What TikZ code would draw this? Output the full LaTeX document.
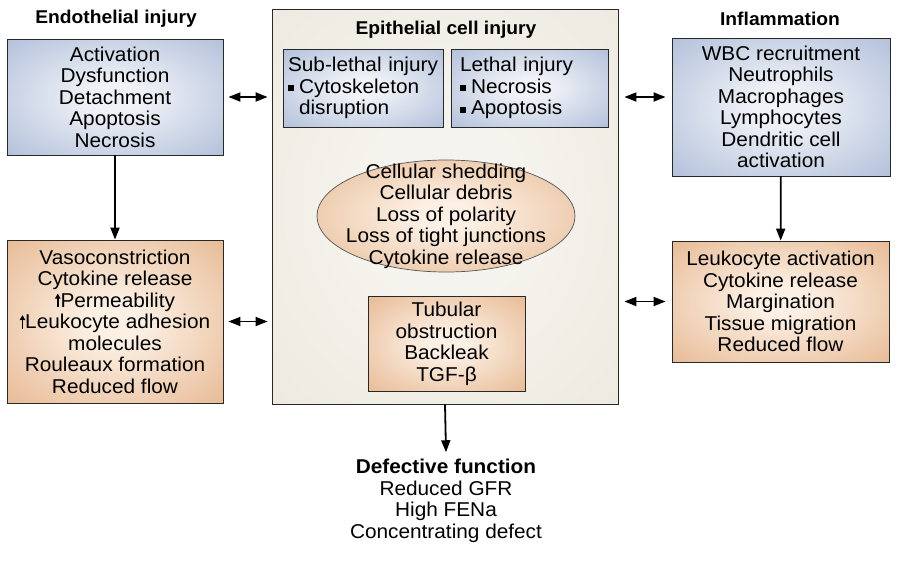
\documentclass[tikz,border=0pt]{standalone}
\usepackage{fontspec}
\setmainfont{Liberation Sans}[FakeStretch=1.04]
\usetikzlibrary{arrows.meta,shapes.geometric}
\definecolor{blueout}{RGB}{156,175,208}
\definecolor{bluein}{RGB}{240,242,247}
\definecolor{orout}{RGB}{224,168,122}
\definecolor{orin}{RGB}{252,240,228}
\definecolor{beout}{RGB}{233,228,216}
\definecolor{bein}{RGB}{245,243,237}
\definecolor{edge}{RGB}{40,40,40}
\pgfdeclareradialshading{blueglow}{\pgfpoint{0bp}{0bp}}{color(0bp)=(bluein); color(6bp)=(bluein); color(46bp)=(blueout); color(72bp)=(blueout)}
\pgfdeclareradialshading{orglow}{\pgfpoint{0bp}{0bp}}{color(0bp)=(orin); color(6bp)=(orin); color(46bp)=(orout); color(72bp)=(orout)}
\pgfdeclareradialshading{beglow}{\pgfpoint{0bp}{0bp}}{color(0bp)=(bein); color(12bp)=(bein); color(50bp)=(beout); color(72bp)=(beout)}
\newcommand\uparr{\tikz[baseline=0pt,x=1pt,y=1pt]\draw[line width=1.5pt,-{Triangle[length=5pt,width=5.5pt]}] (0,0)--(0,13.5);}
\newcommand\bul{\rule[2pt]{6pt}{6pt}\hspace{5pt}}
\begin{document}
\begin{tikzpicture}[x=1pt,y=-1pt,
  font=\fontsize{20}{21.5}\selectfont,
  box/.style={draw=edge, line width=0.8pt, inner sep=0pt, align=center},
  bluebox/.style={box, shading=blueglow},
  orangebox/.style={box, shading=orglow},
  beigebox/.style={box, shading=beglow},
  head/.style={font=\bfseries\fontsize{18.5}{21.5}\selectfont},
  txt/.style={align=center, inner sep=0pt},
  dbl/.style={line width=1.8pt, {Triangle[length=12pt,width=9pt]}-{Triangle[length=12pt,width=9pt]}},
  down/.style={line width=1.8pt, -{Triangle[length=12pt,width=9pt]}}]
\useasboundingbox[fill=white] (0,0) rectangle (900,560);
\node[head] (hl) at (116,19) {Endothelial injury};
\node[head] (hr) at (780,19) {Inflammation};
\node[beigebox, minimum width=346, minimum height=395] (c) at (445,206.5) {};
\node[head] (hc) at (446,30) {Epithelial cell injury};
\node[bluebox, minimum width=216, minimum height=116] (lt) at (115,97)
  {Activation\\Dysfunction\\Detachment\\Apoptosis\\Necrosis};
\node[orangebox, minimum width=216, minimum height=163] (lb) at (115,321.5)
  {Vasoconstriction\\Cytokine release\\\uparr Permeability\\\uparr Leukocyte adhesion\\molecules\\Rouleaux formation\\Reduced flow};
\node[bluebox, minimum width=160, minimum height=78, text width=150, inner xsep=5, align=left] (sl) at (363,88)
  {\mbox{Sub-lethal injury}\\\mbox{\bul Cytoskeleton}\\\mbox{\hphantom{\bul}disruption}};
\node[bluebox, minimum width=157, minimum height=78, text width=139, inner xsep=9, align=left] (le) at (529.5,88)
  {\mbox{Lethal injury}\\\mbox{\bul Necrosis}\\\mbox{\bul Apoptosis}};
\node[ellipse, draw=edge!80, line width=0.7pt, shading=orglow, minimum width=258, minimum height=112, inner sep=0pt] (el) at (446,216) {};
\node[txt] (elt) at (el.center) {Cellular shedding\\Cellular debris\\Loss of polarity\\Loss of tight junctions\\Cytokine release};
\node[orangebox, minimum width=157, minimum height=95] (tb) at (446.5,344)
  {Tubular\\obstruction\\Backleak\\TGF-β};
\node[bluebox, minimum width=218, minimum height=138] (rt) at (781,107)
  {WBC recruitment\\Neutrophils\\Macrophages\\Lymphocytes\\Dendritic cell\\activation};
\node[orangebox, minimum width=217, minimum height=121] (rb) at (780.5,301.5)
  {Leukocyte activation\\Cytokine release\\Margination\\Tissue migration\\Reduced flow};
\node[txt] (def) at (446,501) {\textbf{Defective function}\\Reduced GFR\\High FENa\\Concentrating defect};
\draw[down] (lt) -- (lb);
\draw[down] (rt) -- (rb);
\draw[down] (c.south) -- ([yshift=7pt]def.north);
\draw[dbl] ([xshift=5pt]lt.east) -- ([xshift=-4pt]lt.east -| c.west);
\draw[dbl] ([xshift=5pt]lb.east) -- ([xshift=-4pt]lb.east -| c.west);
\draw[dbl] ([xshift=6pt]c.east |- lt.east) -- ([xshift=-6pt]rt.west |- lt.east);
\draw[dbl] ([xshift=6pt]c.east |- rb.west) -- ([xshift=-6pt]rb.west);
\end{tikzpicture}
\end{document}
